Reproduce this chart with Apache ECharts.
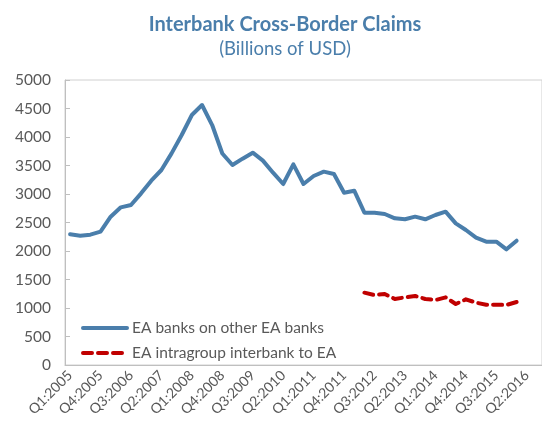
<!DOCTYPE html>
<html>
<head>
<meta charset="utf-8">
<script src="https://cdn.jsdelivr.net/npm/echarts@6/dist/echarts.min.js"></script>
<style>html,body{margin:0;padding:0;background:#fff}#c{width:542px;height:430px}</style>
</head>
<body>
<div id="c"></div>
<script>
var categories = (function(){var a=[];for(var y=2005;y<=2016;y++){for(var q=1;q<=4;q++){a.push('Q'+q+':'+y);}}return a.slice(0,47);})();
var eaBanks = [2292,2269,2287,2339,2602,2766,2807,3012,3234,3421,3713,4035,4386,4561,4210,3710,3509,3620,3725,3585,3374,3175,3520,3175,3316,3392,3351,3023,3058,2672,2672,2649,2573,2556,2602,2556,2632,2690,2485,2368,2234,2164,2164,2029,2181,null,null];
var intragroup = [null,null,null,null,null,null,null,null,null,null,null,null,null,null,null,null,null,null,null,null,null,null,null,null,null,null,null,null,null,1269,1228,1246,1158,1187,1211,1158,1140,1187,1070,1152,1094,1058,1058,1053,1105,null,null];
var yTicks = [0,500,1000,1500,2000,2500,3000,3500,4000,4500,5000];
var seriesNames = ['EA banks on other EA banks','EA intragroup interbank to EA'];

var chart = echarts.init(document.getElementById('c'), null, {renderer:'canvas'});
var font = 'Lato, "Open Sans", sans-serif';
chart.setOption({
  animation:false,
  backgroundColor:'#fff',
  title:{
    text:'Interbank Cross-Border Claims',
    subtext:'(Billions of USD)',
    left:280, top:10, textAlign:'center', itemGap:5,
    textStyle:{fontFamily:font,fontSize:20,fontWeight:'bold',color:'#4a7eab'},
    subtextStyle:{fontFamily:font,fontSize:18.5,color:'#4a7eab'}
  },
  legend:{
    orient:'vertical', left:76, top:315, itemGap:9, itemWidth:44, itemHeight:18,
    textStyle:{fontFamily:font,fontSize:15.5,color:'#595959'},
    itemStyle:{opacity:0},
    data:[
      {name:seriesNames[0], lineStyle:{width:4,cap:'round',color:'#4a7eab'}},
      {name:seriesNames[1], lineStyle:{width:4,cap:'round',type:[9,6],color:'#c00000'}}
    ]
  },
  grid:{left:65, top:80, width:478, height:285, show:true, borderColor:'#d0d0d0', borderWidth:1},
  xAxis:{
    type:'category', data:categories, boundaryGap:true,
    axisLine:{lineStyle:{color:'#bfbfbf',width:1}},
    axisTick:{inside:true,length:5,interval:0,lineStyle:{color:'#bfbfbf'}},
    axisLabel:{interval:2,rotate:45,fontFamily:font,fontSize:14,color:'#595959',margin:8},
    splitLine:{show:false}
  },
  yAxis:{
    type:'value', min:yTicks[0], max:yTicks[yTicks.length-1], interval:500,
    axisLine:{show:true,lineStyle:{color:'#bfbfbf',width:1}},
    axisTick:{show:true,inside:true,length:5,lineStyle:{color:'#bfbfbf'}},
    axisLabel:{fontFamily:font,fontSize:15.5,color:'#595959',margin:14,formatter:function(v){return String(v);}},
    splitLine:{show:false}
  },
  series:[
    {name:seriesNames[0], type:'line', data:eaBanks, symbol:'none', connectNulls:false,
     lineStyle:{color:'#4a7eab',width:4,join:'round',cap:'round'}, itemStyle:{color:'#4a7eab'}},
    {name:seriesNames[1], type:'line', data:intragroup, symbol:'none',
     lineStyle:{color:'#c00000',width:4,type:[9,6],cap:'round',join:'round'}, itemStyle:{color:'#c00000'}}
  ]
});
</script>
</body>
</html>
